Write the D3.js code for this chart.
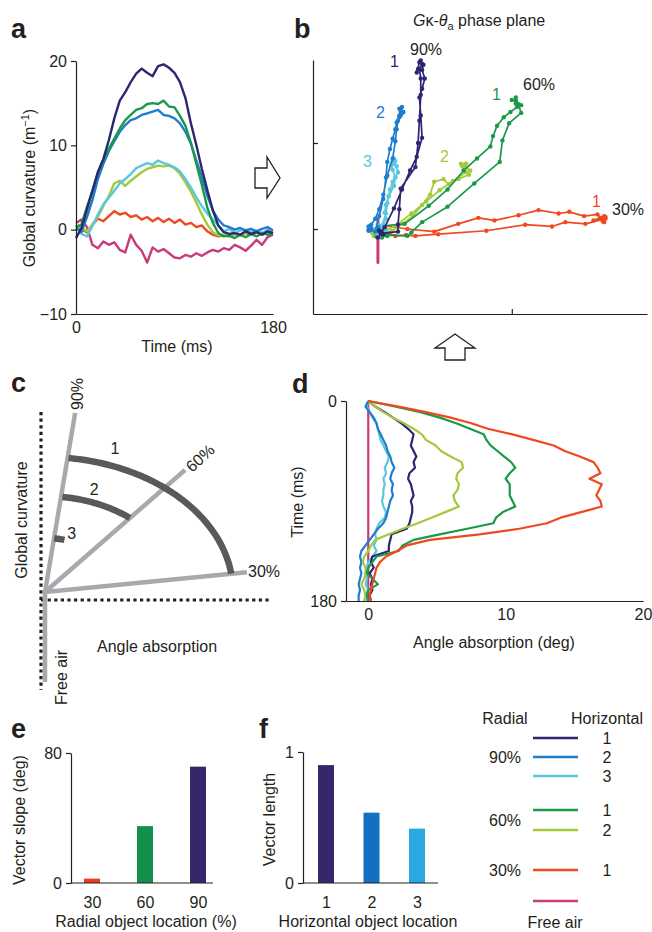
<!DOCTYPE html>
<html>
<head>
<meta charset="utf-8">
<script src="https://cdn.jsdelivr.net/npm/d3@7"></script>
<style>
  body { margin: 0; background: #fff; }
  svg text { font-family: "Liberation Sans", Arial, Helvetica, sans-serif; fill: #231f20; }
</style>
</head>
<body>
<svg id="fig" width="652" height="932"></svg>
<script>
// time samples (ms), shared by panels a, b, d
const timeMs = [0, 5, 10, 15, 20, 25, 30, 35, 40, 45, 50, 55, 60, 65, 70, 75, 80, 85, 90, 95, 100,
  105, 110, 115, 120, 125, 130, 135, 140, 145, 150, 155, 160, 165, 170, 175, 180];

// global curvature (m^-1), panel a
const curvNavy = [-1, 0.2, 2.4, 4.6, 6.8, 8.4, 10.6, 13.2, 15.3, 16.3, 17.5, 18.5, 19.1, 18.6, 18.2, 19.4, 19.6, 19.2, 18.6, 17.5,
  15.6, 12.6, 10, 7.2, 4.7, 2.3, 0.5, -0.3, -0.5, -0.4, -0.6, -0.2, -0.5, -0.3, -0.6, -0.2, -0.4];
const curvBlue = [0.2, -0.3, 1.5, 3.5, 6, 7.8, 9.3, 10.5, 11.6, 12.4, 13, 13.2, 13.6, 13.8, 14, 14.2, 13.6, 13.5, 13.2, 12.6,
  11.6, 10.2, 8.2, 6.2, 4, 2.3, 1.2, 0.5, 0.3, 0, 0.2, -0.1, 0.1, -0.2, 0.1, 0.3, -0.1];
const curvCyan = [0.5, -0.5, -0.8, 0.4, 1.8, 3, 3.8, 4.6, 5.5, 6, 6.6, 7.3, 7.6, 7.9, 7.7, 8.2, 7.9, 7.7, 7.4, 6.9,
  6, 5, 3.8, 2.8, 1.9, 1.2, 0.5, -0.2, 0.1, -0.4, -0.1, 0, -0.3, -0.1, -0.4, 0, -0.3];
const curvGreen = [0.3, 0.6, 2.7, 4.6, 6.8, 8.2, 9.6, 10.8, 12, 13, 13.6, 14.2, 14.4, 14.9, 15, 14.9, 15.3, 14.6, 14.5, 13.5,
  12.3, 10.3, 7.8, 5.3, 2.6, 0.8, -0.4, -0.8, -0.7, -1, -0.6, -0.9, -0.5, -0.8, -0.4, -0.6, -0.5];
const curvLime = [0.5, 0.2, -0.2, 0.6, 1.5, 2.8, 4, 5.5, 5.8, 5.2, 5.8, 6.3, 6.8, 7.2, 7.4, 7.6, 7.5, 7.6, 7.3, 6.6,
  5.6, 4.5, 3.2, 1.8, 0.6, -0.3, -0.7, -0.6, -0.8, -0.5, -0.7, -0.4, -0.6, -0.3, -0.6, -0.4, -0.5];
const curvRed = [0.5, 0, -0.3, 0.6, 1.3, 1, 1.6, 2.2, 1.8, 2, 1.5, 1.7, 1.2, 1.5, 1, 1.4, 0.9, 1.3, 0.8, 1.2,
  0.6, 0.8, 0.3, 0.5, -0.2, -0.6, -0.8, -0.7, -0.8, -0.5, -0.6, -0.4, -0.6, -0.3, -0.5, -0.4, -0.3];
const curvFree = [0.8, 1.2, 0.3, -1.8, -2.2, -1.4, -1.8, -1.5, -2.4, -2.7, -0.6, -1.8, -2.5, -3.9, -2.1, -2.6, -2.3, -2.8, -3.3, -3.4,
  -3, -3.2, -2.8, -3.1, -2.7, -2.4, -2.6, -2.2, -2.4, -1.8, -2.1, -2.5, -1.9, -1.2, -1.8, -0.9, -0.6];

// angle absorption (deg), panel d
const angNavy = [0, 0.5, 1.2, 1.8, 2.4, 2.9, 3.3, 3.2, 3.1, 3.3, 3.5, 3.3, 3.4, 3, 2.9, 3.1, 3.2, 3.3, 3.1, 3.2,
  3.2, 3.1, 3, 2.8, 1.7, 1.6, 1.5, 1.5, 0.3, 0.2, 0.4, 0.1, 0.3, 0.2, 0.3, 0.1, 0.2];
const angBlue = [0, -0.2, 0.1, 0.4, 0.6, 0.7, 0.9, 1.1, 1.3, 1.4, 1.6, 1.7, 1.9, 1.7, 1.6, 1.8, 1.7, 1.8, 1.6, 1.5,
  1.4, 1.3, 1.1, 0.7, 0.4, 0.1, -0.2, -0.5, -0.6, -0.5, -0.6, -0.5, -0.6, -0.7, -0.6, -0.7, -0.7];
const angCyan = [0, -0.1, 0.1, 0.3, 0.6, 0.7, 0.8, 0.9, 1.1, 1.3, 1.5, 1.4, 1.2, 1.3, 1.1, 1.2, 1.1, 1.1, 1, 1.1,
  1.3, 1.2, 0.8, 0.6, 0.5, 0.6, 0.4, 0.6, 0.3, 0, -0.1, -0.2, -0.1, -0.2, 0, -0.2, -0.1];
const angGreen = [0, 2, 3.8, 5.2, 6.4, 7.4, 8.4, 8.6, 8.9, 9.4, 9.9, 10.4, 10.7, 10.3, 10, 10.3, 10.3, 10.3, 10.5, 10.7,
  9.8, 9.3, 9.1, 7.2, 5.2, 3.3, 2.5, 2.2, 0.6, 0.3, 0, -0.1, 0.3, 0.7, 0, -0.1, 0];
const angLime = [0, 0.5, 1.1, 1.8, 2.6, 3.3, 3.9, 4.2, 4.9, 5.3, 6, 6.8, 6.9, 6.5, 6.4, 6.6, 6.5, 6.2, 6.3, 6.6,
  5.6, 4.6, 3.6, 2.5, 1.5, 0.5, 0.2, 0, -0.3, -0.4, -0.2, -0.2, -0.3, -0.5, -0.3, -0.2, -0.3];
const angRed = [0, 2.2, 4.2, 6, 7.5, 8.7, 10.5, 12, 13.5, 14.3, 15.4, 16.4, 16.7, 16.9, 16.1, 17, 16.8, 16.6, 16.9, 17,
  15.5, 14, 13, 11, 8.1, 4.5, 2.8, 2.1, 1.3, 0.85, 0.6, 0.5, 0.4, 0.3, 0.2, 0.1, 0.2];
const angFree = [0, 0, 0, 0, 0, 0, 0, 0, 0, 0, 0, 0, 0, 0, 0, 0, 0, 0, 0, 0,
  0, 0, 0, 0, 0, 0, 0, 0, 0, 0, 0, 0, 0, 0, 0, 0, 0];

// panel e / f bars
const radialLoc = ['30', '60', '90'];
const vectorSlope = [2.7, 35, 71.6];
const horizLoc = ['1', '2', '3'];
const vectorLength = [0.9, 0.537, 0.415];

// legend
const legendSeries = ['navy', 'blue', 'cyan', 'green', 'lime', 'red', 'free'];
const legendHoriz = ['1', '2', '3', '1', '2', '1', ''];
const legendRadial = ['90%', '60%', '30%'];

// panel c schematic (normalised units)
const rayNames = ['90%', '60%', '30%', ''];
const rayAngles = [83.1, 50.5, 7.8, -90];
const rayLengths = [1.336, 1.171, 1.084, 0.667];
const arcNames = ['1', '2', '3'];
const arcRadii = [1, 0.71, 0.4];
const arcFrom = [7.8, 50.5, 75];
const arcTo = [83.1, 83.1, 83.1];

const colors = {
  navy: '#2d2672', blue: '#1f7dcc', cyan: '#5cc6dd', green: '#1a9a49',
  lime: '#a5c93c', red: '#f0481f', free: '#c83a7a'
};
const barColorE = ['#ee3a23', '#13904b', '#37266b'];
const barColorF = ['#37266b', '#1170bf', '#29a9e1'];
const ink = '#231f20';
const FS = 16;

const curv = { navy: curvNavy, blue: curvBlue, cyan: curvCyan, green: curvGreen, lime: curvLime, red: curvRed, free: curvFree };
const ang = { navy: angNavy, blue: angBlue, cyan: angCyan, green: angGreen, lime: angLime, red: angRed, free: angFree };

main();

function main () {
  const svg = d3.select('#fig');
  panelLetters(svg);
  drawPanelA(svg);
  drawPanelB(svg);
  drawPanelC(svg);
  drawPanelD(svg);
  drawBars(svg, radialLoc, vectorSlope, barColorE, {
    x0: 71, x1: 213, c0: 92, c1: 198, y0: 883, y1: 753, max: 80,
    ytitle: 'Vector slope (deg)', ytx: 25, xtitle: 'Radial object location (%)', xtx: 146
  });
  drawBars(svg, horizLoc, vectorLength, barColorF, {
    x0: 303, x1: 438, c0: 326, c1: 417, y0: 883, y1: 752, max: 1,
    ytitle: 'Vector length', ytx: 275, xtitle: 'Horizontal object location', xtx: 368
  });
  drawLegend(svg);
  drawArrows(svg);
}

function styleAxis (g) {
  g.selectAll('path, line').attr('stroke', ink).attr('stroke-width', 1.2);
  g.selectAll('text').attr('font-size', FS).attr('fill', ink)
    .attr('font-family', '"Liberation Sans", Arial, sans-serif');
}

function panelLetters (svg) {
  const letters = [['a', 11, 38], ['b', 294, 38], ['c', 11, 392], ['d', 292, 393], ['e', 11, 738], ['f', 259, 738]];
  for (let l of letters) {
    svg.append('text').text(l[0])
      .attr('x', l[1]).attr('y', l[2])
      .attr('font-size', 27).attr('font-weight', 700);
  }
}

function seriesLine (x, y) {
  return d3.line().x(d => x(d[0])).y(d => y(d[1]));
}

function drawPanelA (svg) {
  const x = d3.scaleLinear([0, 180], [76, 273]);
  const y = d3.scaleLinear([-10, 20], [314, 61]);
  const g = svg.append('g');

  const order = ['free', 'red', 'lime', 'cyan', 'blue', 'green', 'navy'];
  const line = seriesLine(x, y);
  for (let k of order) {
    const pts = timeMs.map((t, i) => [t, curv[k][i]]);
    g.append('path').attr('d', line(pts))
      .attr('fill', 'none').attr('stroke', colors[k])
      .attr('stroke-width', 2.4).attr('stroke-linejoin', 'round');
  }

  const gx = g.append('g').attr('transform', 'translate(0,314)')
    .call(d3.axisBottom(x).tickValues([0, 180]).tickSize(0).tickPadding(8).tickSizeOuter(0));
  const gy = g.append('g').attr('transform', 'translate(76,0)')
    .call(d3.axisLeft(y).tickValues([-10, 0, 10, 20]).tickSize(5).tickPadding(4).tickSizeOuter(0)
      .tickFormat(d => d < 0 ? '\u2212' + Math.abs(d) : d));
  styleAxis(gx);
  styleAxis(gy);

  g.append('text').attr('x', 177).attr('y', 352).attr('text-anchor', 'middle')
    .attr('font-size', FS).text('Time (ms)');
  const yt = g.append('text').attr('transform', 'translate(35,188) rotate(-90)')
    .attr('text-anchor', 'middle').attr('font-size', FS);
  yt.append('tspan').text('Global curvature (m');
  yt.append('tspan').text('\u22121').attr('font-size', 11).attr('dy', -6);
  yt.append('tspan').text(')').attr('dy', 6);
}

function drawPanelB (svg) {
  const x = d3.scaleLinear([-4.85, 20.1], [313, 647]);
  const y = d3.scaleLinear([-9.88, 19.65], [314, 60]);
  const g = svg.append('g');

  const gx = g.append('g').attr('transform', 'translate(0,314)')
    .call(d3.axisBottom(x).tickValues([10]).tickSize(-5).tickSizeOuter(0).tickFormat(''));
  const gy = g.append('g').attr('transform', 'translate(313,0)')
    .call(d3.axisLeft(y).tickValues([0, 10]).tickSize(-5).tickSizeOuter(0).tickFormat(''));
  styleAxis(gx);
  styleAxis(gy);

  const order = ['free', 'red', 'lime', 'green', 'cyan', 'blue', 'navy'];
  const line = seriesLine(x, y);
  for (let k of order) {
    const pts = timeMs.map((t, i) => [ang[k][i], curv[k][i]]);
    g.append('path').attr('d', line(pts))
      .attr('fill', 'none').attr('stroke', colors[k])
      .attr('stroke-width', k === 'free' ? 3 : 1.7).attr('stroke-linejoin', 'round');
    if (k === 'free') continue;
    g.selectAll(null).data(pts).enter().append('circle')
      .attr('cx', d => x(d[0])).attr('cy', d => y(d[1]))
      .attr('r', 2.2).attr('fill', colors[k]);
  }

  const title = g.append('text').attr('x', 413).attr('y', 26).attr('font-size', FS);
  title.append('tspan').text('G').attr('font-style', 'italic');
  title.append('tspan').text('\u03ba-');
  title.append('tspan').text('\u03b8').attr('font-style', 'italic');
  title.append('tspan').text('a').attr('font-size', 11).attr('dy', 4);
  title.append('tspan').text(' phase plane').attr('dy', -4);

  const notes = [
    ['90%', 410, 55, ink], ['1', 390, 67, colors.navy],
    ['60%', 523, 90, ink], ['1', 492, 100, colors.green],
    ['2', 376, 118, colors.blue], ['3', 363, 167, colors.cyan],
    ['2', 440, 162, colors.lime], ['1', 592, 207, colors.red],
    ['30%', 612, 215, ink]
  ];
  for (let n of notes) {
    g.append('text').text(n[0]).attr('x', n[1]).attr('y', n[2])
      .attr('font-size', FS).style('fill', n[3]);
  }
}

function drawPanelC (svg) {
  const x = d3.scaleLinear([0, 1], [45, 233]);
  const y = d3.scaleLinear([0, 1], [592, 457]);
  const rad = Math.PI / 180;
  const g = svg.append('g');

  // dotted axes
  g.append('line').attr('x1', 41).attr('x2', 41).attr('y1', 412).attr('y2', 690)
    .attr('stroke', ink).attr('stroke-width', 3.2).attr('stroke-dasharray', '3.2,3.4');
  g.append('line').attr('x1', 41).attr('x2', 271).attr('y1', 600).attr('y2', 600)
    .attr('stroke', ink).attr('stroke-width', 3.2).attr('stroke-dasharray', '3.2,3.4');

  // vectors
  rayAngles.forEach((a, i) => {
    g.append('line')
      .attr('x1', x(0)).attr('y1', y(0))
      .attr('x2', x(rayLengths[i] * Math.cos(a * rad)))
      .attr('y2', y(rayLengths[i] * Math.sin(a * rad)))
      .attr('stroke', '#a7a9ac').attr('stroke-width', 4.5);
  });

  // arcs
  const arcLine = d3.line().x(d => x(d[0])).y(d => y(d[1]));
  arcRadii.forEach((r, i) => {
    const pts = [];
    for (let a = arcFrom[i]; a <= arcTo[i] + 0.01; a += 1) {
      pts.push([r * Math.cos(a * rad), r * Math.sin(a * rad)]);
    }
    g.append('path').attr('d', arcLine(pts))
      .attr('fill', 'none').attr('stroke', '#58595b').attr('stroke-width', 6.5);
    const la = 70 * rad;
    g.append('text').text(arcNames[i])
      .attr('x', x(r * 1.12 * Math.cos(la)) - 2).attr('y', y(r * 1.12 * Math.sin(la)) + 4)
      .attr('text-anchor', 'middle').attr('font-size', FS);
  });

  // vector labels
  g.append('text').text(rayNames[0]).attr('transform', 'translate(83,410) rotate(-90)').attr('font-size', FS);
  g.append('text').text(rayNames[1]).attr('transform', 'translate(192,473) rotate(-42)').attr('font-size', FS);
  g.append('text').text(rayNames[2]).attr('x', 248).attr('y', 577).attr('font-size', FS);

  g.append('text').text('Global curvature').attr('transform', 'translate(27,520) rotate(-90)')
    .attr('text-anchor', 'middle').attr('font-size', FS);
  g.append('text').text('Angle absorption').attr('x', 157).attr('y', 652)
    .attr('text-anchor', 'middle').attr('font-size', FS);
  g.append('text').text('Free air').attr('transform', 'translate(67,705) rotate(-90)')
    .attr('font-size', FS);
}

function drawPanelD (svg) {
  const x = d3.scaleLinear([-1.62, 20], [346, 643]);
  const y = d3.scaleLinear([0, 180], [401, 601]);
  const g = svg.append('g');

  const order = ['free', 'cyan', 'blue', 'navy', 'lime', 'green', 'red'];
  const line = seriesLine(x, y);
  for (let k of order) {
    const pts = timeMs.map((t, i) => [ang[k][i], t]);
    g.append('path').attr('d', line(pts))
      .attr('fill', 'none').attr('stroke', colors[k])
      .attr('stroke-width', 2.2).attr('stroke-linejoin', 'round');
  }

  const gx = g.append('g').attr('transform', 'translate(0,601)')
    .call(d3.axisBottom(x).tickValues([0, 10, 20]).tickSize(0).tickPadding(8).tickSizeOuter(0));
  const gy = g.append('g').attr('transform', 'translate(346,0)')
    .call(d3.axisLeft(y).tickValues([0, 180]).tickSize(5).tickPadding(4).tickSizeOuter(0));
  styleAxis(gx);
  styleAxis(gy);

  g.append('text').attr('x', 494).attr('y', 648).attr('text-anchor', 'middle')
    .attr('font-size', FS).text('Angle absorption (deg)');
  g.append('text').attr('transform', 'translate(303,502) rotate(-90)')
    .attr('text-anchor', 'middle').attr('font-size', FS).text('Time (ms)');
}

function drawBars (svg, cats, vals, fills, o) {
  const x = d3.scalePoint(cats, [o.c0, o.c1]);
  const y = d3.scaleLinear([0, o.max], [o.y0, o.y1]);
  const g = svg.append('g');
  const bw = 16;

  g.selectAll(null).data(vals).enter().append('rect')
    .attr('x', (d, i) => x(cats[i]) - bw / 2)
    .attr('y', d => y(d))
    .attr('width', bw)
    .attr('height', d => y(0) - y(d))
    .attr('fill', (d, i) => fills[i]);

  g.append('line').attr('x1', o.x0).attr('x2', o.x1).attr('y1', o.y0).attr('y2', o.y0)
    .attr('stroke', ink).attr('stroke-width', 1.2);
  const gx = g.append('g').attr('transform', `translate(0,${o.y0})`)
    .call(d3.axisBottom(x).tickSize(0).tickPadding(14));
  gx.select('.domain').remove();
  const gy = g.append('g').attr('transform', `translate(${o.x0},0)`)
    .call(d3.axisLeft(y).tickValues([0, o.max]).tickSize(5).tickPadding(4).tickSizeOuter(0)
      .tickFormat(d3.format('d')));
  styleAxis(gx);
  styleAxis(gy);

  g.append('text').attr('x', o.xtx).attr('y', 927).attr('text-anchor', 'middle')
    .attr('font-size', FS).text(o.xtitle);
  g.append('text').attr('transform', `translate(${o.ytx},${(o.y0 + o.y1) / 2 + 2}) rotate(-90)`)
    .attr('text-anchor', 'middle').attr('font-size', FS).text(o.ytitle);
}

function drawLegend (svg) {
  const rowY = [738, 757, 776, 810, 830, 870, 901];
  const groups = [[0, 1, 2], [3, 4], [5]];
  const g = svg.append('g');
  g.append('text').text('Radial').attr('x', 505).attr('y', 724).attr('text-anchor', 'middle').attr('font-size', FS);
  g.append('text').text('Horizontal').attr('x', 607).attr('y', 724).attr('text-anchor', 'middle').attr('font-size', FS);
  legendSeries.forEach((k, i) => {
    g.append('line').attr('x1', 533).attr('x2', 578).attr('y1', rowY[i]).attr('y2', rowY[i])
      .attr('stroke', colors[k]).attr('stroke-width', 2.6);
    g.append('text').text(legendHoriz[i]).attr('x', 607).attr('y', rowY[i] + 6)
      .attr('text-anchor', 'middle').attr('font-size', FS);
  });
  groups.forEach((rows, j) => {
    const cy = d3.mean(rows, r => rowY[r]);
    g.append('text').text(legendRadial[j]).attr('x', 505).attr('y', cy + 6)
      .attr('text-anchor', 'middle').attr('font-size', FS);
  });
  g.append('text').text('Free air').attr('x', 555).attr('y', 928).attr('text-anchor', 'middle').attr('font-size', FS);
}

function drawArrows (svg) {
  const right = [[255, 168], [267, 168], [267, 157], [280, 178], [267, 198], [267, 188], [255, 188]];
  const up = [[455, 334], [475, 348], [465, 348], [465, 360], [445, 360], [445, 348], [435, 348]];
  for (let p of [right, up]) {
    svg.append('path').attr('d', d3.line()(p) + 'Z')
      .attr('fill', '#fff').attr('stroke', ink).attr('stroke-width', 1.3)
      .attr('stroke-linejoin', 'miter');
  }
}
</script>
</body>
</html>
